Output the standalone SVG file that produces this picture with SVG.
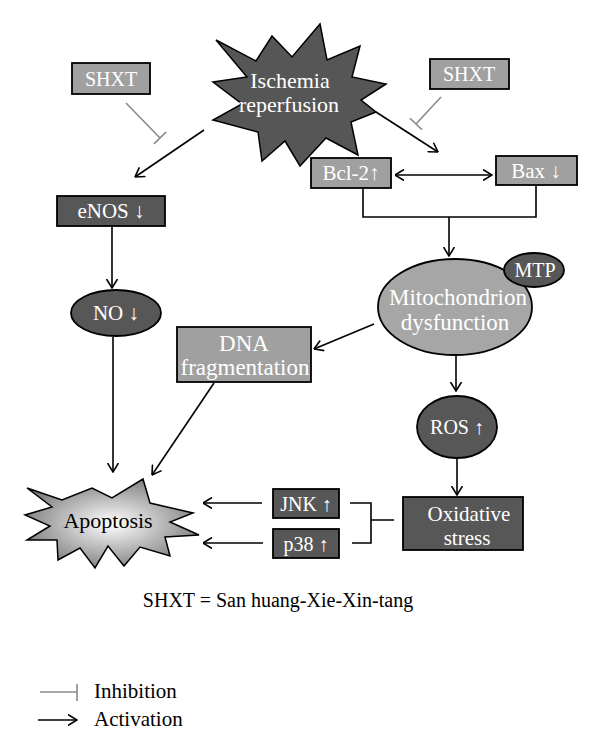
<svg xmlns="http://www.w3.org/2000/svg" width="600" height="751" viewBox="0 0 600 751">
<style>
text{font-family:"Liberation Serif","Times New Roman",serif;text-anchor:middle}
.w{fill:#ffffff}
.k{fill:#000000}
.s20{font-size:20px}
.s21{font-size:21px}
.s22{font-size:22px}
.s23{font-size:23px}
.st{text-anchor:start}
.dark{fill:#575757;stroke:#000;stroke-width:1.8}
.light{fill:#a0a0a0;stroke:#000;stroke-width:1.8}
.act{stroke:#000;stroke-width:1.6;fill:none;marker-end:url(#ah)}
.ln{stroke:#000;stroke-width:1.6;fill:none}
.inh{stroke:#8a8a8a;stroke-width:1.6;fill:none;marker-end:url(#ih)}
</style>
<defs>
<marker id="ah" viewBox="0 0 10 12" refX="9.5" refY="6" markerWidth="10" markerHeight="12" markerUnits="userSpaceOnUse" orient="auto-start-reverse">
<path d="M0.5,0.5 L9.5,6 L0.5,11.5" fill="none" stroke="#000" stroke-width="1.6"/>
</marker>
<marker id="ih" viewBox="-1 -9 2 18" refX="0" refY="0" markerWidth="2" markerHeight="18" markerUnits="userSpaceOnUse" orient="auto">
<path d="M0,-8.5 L0,8.5" stroke="#8a8a8a" stroke-width="1.6"/>
</marker>
<radialGradient id="apg" cx="50%" cy="50%" r="55%">
<stop offset="0" stop-color="#ffffff"/>
<stop offset="1" stop-color="#7a7a7a"/>
</radialGradient>
</defs>
<rect width="600" height="751" fill="#fff"/>

<g id="connectors">
<path class="inh" d="M126,103 L160,138"/>
<path class="inh" d="M441,97 L416,124"/>
<path class="act" d="M204,130 L135,177"/>
<path class="act" d="M376,112 L438,152"/>
<path class="act" style="marker-start:url(#ah)" d="M395,175 L492,175"/>
<path class="ln" d="M363,188 V217 H536 V185"/>
<path class="act" d="M449,217 V256"/>
<path class="act" d="M112,226 V288"/>
<path class="act" d="M113,337 V472"/>
<path class="act" d="M374,324 L314,349"/>
<path class="act" d="M214,383 L152,475"/>
<path class="act" d="M456,355 V391"/>
<path class="act" d="M457,458 V495"/>
<path class="ln" d="M350,503 H371 V543 H352 M371,520 H394"/>
<path class="act" d="M262,503 H203"/>
<path class="act" d="M263,543 H203"/>
</g>

<g id="ischemia">
<polygon points="216,40 256,61 272,36 292,57 320,24 327,60 360,46 352,77 386,84 361,100 376,112 351,122 358,155 326,138 300,166 285,141 262,161 258,132 213,120 242,104 213,82 247,77" fill="#565656" stroke="#000" stroke-width="1.5"/>
<text class="w s22" x="290" y="88">Ischemia</text>
<text class="w s22" x="289" y="112">reperfusion</text>
</g>

<g id="shxt-left">
<rect class="light" x="72" y="63" width="78" height="31"/>
<text class="w s20" x="111" y="86">SHXT</text>
</g>
<g id="shxt-right">
<rect class="light" x="430" y="59" width="79" height="30"/>
<text class="w s20" x="469" y="81">SHXT</text>
</g>

<g id="bcl2">
<rect class="light" x="311" y="158" width="80" height="30"/>
<text class="w s21" x="351" y="180">Bcl-2↑</text>
</g>
<g id="bax">
<rect class="light" x="496" y="156" width="81" height="29"/>
<text class="w s21" x="536" y="178">Bax ↓</text>
</g>

<g id="enos">
<rect class="dark" x="57" y="196" width="108" height="30"/>
<text class="w s21" x="111" y="218">eNOS ↓</text>
</g>

<g id="no">
<ellipse class="dark" cx="116" cy="313" rx="45" ry="23"/>
<text class="w s21" x="116" y="320">NO ↓</text>
</g>

<g id="mito">
<ellipse cx="455" cy="307" rx="77" ry="48" fill="#a6a6a6" stroke="#000" stroke-width="1.8"/>
<text class="w s23" x="458" y="305">Mitochondrion</text>
<text class="w s23" x="455" y="330">dysfunction</text>
</g>

<g id="mtp">
<ellipse class="dark" cx="534" cy="270" rx="30" ry="17"/>
<text class="w s20" x="535" y="277">MTP</text>
</g>

<g id="dna">
<rect class="light" x="177" y="327" width="134" height="55"/>
<text class="w s23" x="244" y="351">DNA</text>
<text class="w s23" x="245" y="375">fragmentation</text>
</g>

<g id="ros">
<ellipse class="dark" cx="457" cy="427" rx="40" ry="31"/>
<text class="w s20" x="457" y="434">ROS ↑</text>
</g>

<g id="oxidative">
<rect class="dark" x="403" y="497" width="120" height="53"/>
<text class="w s21" x="469" y="521">Oxidative</text>
<text class="w s21" x="467" y="545">stress</text>
</g>

<g id="jnk">
<rect class="dark" x="273" y="489" width="66" height="29"/>
<text class="w s20" x="306" y="511">JNK ↑</text>
</g>
<g id="p38">
<rect class="dark" x="273" y="529" width="66" height="29"/>
<text class="w s20" x="306" y="551">p38 ↑</text>
</g>

<g id="apoptosis">
<polygon points="27,488 62,500 92,488 112,498 143,479 150,503 193,513 170,522 199,535 165,537 170,556 140,547 124,566 108,546 95,568 80,548 58,560 57,540 27,540 50,526 25,515 52,507" fill="url(#apg)" stroke="#000" stroke-width="1.5"/>
<text class="k s22" x="108" y="528">Apoptosis</text>
</g>

<text class="k s20" x="278" y="607">SHXT = San huang-Xie-Xin-tang</text>

<g id="legend">
<path d="M40,692 H77 M77,684 V701" stroke="#8a8a8a" stroke-width="1.6" fill="none"/>
<path class="act" d="M38,720 H77"/>
<text class="k s21 st" x="94" y="698">Inhibition</text>
<text class="k s21 st" x="94" y="726">Activation</text>
</g>
</svg>
